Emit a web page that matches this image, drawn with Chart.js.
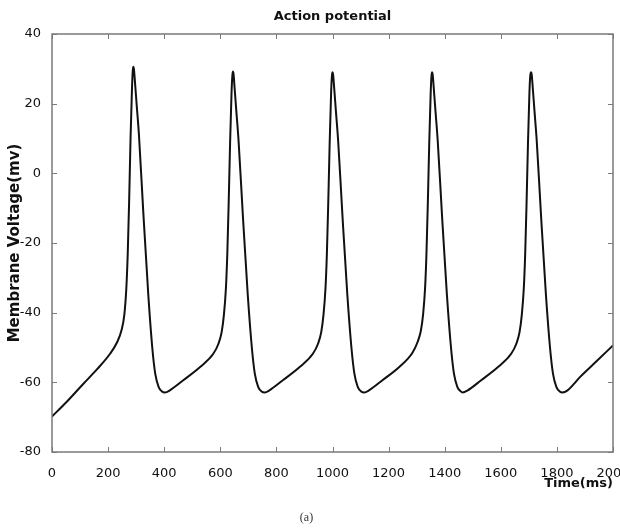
<!DOCTYPE html>
<html>
<head>
<meta charset="utf-8">
<script src="https://cdn.jsdelivr.net/npm/chart.js@4.4.1/dist/chart.umd.min.js"></script>
<style>
  html, body { margin: 0; padding: 0; background: #fff; }
  #wrap { width: 620px; height: 532px; position: relative; }
</style>
</head>
<body>
<div id="wrap"><canvas id="apChart"></canvas></div>
<script>
// membrane voltage trace (ms, mV)
const timeMs = [
  0, 50, 112, 160, 207, 232, 248, 258, 265, 270, 275, 280, 285, 288, 290, 292, 296, 302, 310, 325, 343, 358, 368, 380, 392, 403, 420,
  468, 528, 575, 593, 605, 613, 620, 625, 630, 635, 640, 643, 645, 647, 651, 657, 665, 680, 698, 713, 723, 735, 747, 758, 775,
  823, 883, 930, 948, 960, 968, 975, 980, 985, 990, 995, 998, 1000, 1002, 1006, 1012, 1020, 1035, 1053, 1068, 1078, 1090, 1102, 1113, 1130,
  1178, 1238, 1285, 1303, 1315, 1323, 1330, 1335, 1340, 1345, 1350, 1353, 1355, 1357, 1361, 1367, 1375, 1390, 1408, 1423, 1433, 1445, 1457, 1464, 1482,
  1530, 1590, 1637, 1655, 1667, 1675, 1682, 1687, 1692, 1697, 1702, 1705, 1708, 1710, 1714, 1720, 1728, 1743, 1761, 1776, 1786, 1798, 1810, 1820, 1838,
  1860, 1882, 1942, 2000
];
const voltageMv = [
  -69.8, -65.8, -60.4, -56.3, -51.8, -48.5, -45, -40.5, -33, -23, -8, 10, 24, 29.5, 30.6, 30, 26, 19.5, 11, -10.5, -34.5, -50.5, -57.5, -61.3, -62.6, -62.9, -62.3,
  -59.4, -55.6, -51.8, -49, -45.5, -40.5, -33, -23, -8, 9, 23, 28, 29.2, 28.7, 24.5, 18, 9.5, -11.5, -35, -50.5, -57.5, -61.3, -62.6, -62.9, -62.3,
  -59.4, -55.6, -51.8, -49, -45.5, -40.5, -33, -23, -8, 9, 23, 28, 29, 28.5, 24.5, 18, 9.5, -11.5, -35, -50.5, -57.5, -61.3, -62.6, -62.9, -62.3,
  -59.4, -55.6, -51.5, -48.5, -45.2, -40.5, -33, -23, -8, 9, 23, 28, 29, 28.5, 24.5, 18, 9.5, -11.5, -35, -50.5, -57.5, -61.3, -62.6, -62.9, -62.3,
  -59.4, -55.6, -51.8, -49, -45.5, -40.5, -33, -23, -8, 9, 23, 28, 29, 28.5, 24.5, 18, 9.5, -11.5, -35, -50.5, -57.5, -61.3, -62.6, -62.9, -62.3,
  -60.5, -58.5, -53.9, -49.4
];
const xTicks = [0, 200, 400, 600, 800, 1000, 1200, 1400, 1600, 1800, 2000];
const yTicks = [-80, -60, -40, -20, 0, 20, 40];

const points = timeMs.map((t, i) => ({ x: t, y: voltageMv[i] }));

// matlab-ish box with ticks pointing inward
const boxTicks = {
  id: 'boxTicks',
  afterDraw(chart) {
    const { ctx, chartArea: a, scales: { x, y } } = chart;
    ctx.save();
    ctx.strokeStyle = '#7a7a7a';
    ctx.lineWidth = 1;
    ctx.beginPath();
    xTicks.forEach(v => {
      const px = Math.round(x.getPixelForValue(v)) + 0.5;
      ctx.moveTo(px, a.bottom); ctx.lineTo(px, a.bottom - 5);
      ctx.moveTo(px, a.top); ctx.lineTo(px, a.top + 5);
    });
    yTicks.forEach(v => {
      const py = Math.round(y.getPixelForValue(v)) + 0.5;
      ctx.moveTo(a.left, py); ctx.lineTo(a.left + 5, py);
      ctx.moveTo(a.right, py); ctx.lineTo(a.right - 5, py);
    });
    ctx.stroke();
    ctx.lineWidth = 1.5;
    ctx.strokeRect(a.left, a.top, a.right - a.left, a.bottom - a.top);
    ctx.restore();
  }
};

const tickFont = { family: 'DejaVu Sans', size: 13 };
const boldFont = { family: 'DejaVu Sans', size: 13, weight: 'bold' };

new Chart(document.getElementById('apChart'), {
  type: 'line',
  data: {
    datasets: [{
      data: points,
      borderColor: '#111',
      borderWidth: 2,
      pointRadius: 0,
      fill: false,
      cubicInterpolationMode: 'monotone'
    }]
  },
  options: {
    responsive: true,
    maintainAspectRatio: false,
    animation: false,
    layout: { autoPadding: false, padding: { left: 0, right: 7, top: 0, bottom: 0 } },
    plugins: {
      legend: { display: false },
      tooltip: { enabled: false },
      title: {
        display: true,
        fullSize: false,
        text: 'Action potential',
        color: '#111',
        font: boldFont,
        padding: { top: 9, bottom: 9.4 }
      },
      subtitle: {
        display: true,
        position: 'bottom',
        text: '(a)',
        color: '#333',
        font: { family: 'Liberation Serif', size: 12 },
        padding: { top: 0, bottom: 7 }
      }
    },
    scales: {
      x: {
        type: 'linear',
        min: 0,
        max: 2000,
        grid: { display: false },
        border: { display: false },
        ticks: { stepSize: 200, color: '#111', font: tickFont, padding: 6, maxRotation: 0, autoSkip: false,
                 callback: v => String(v) },
        title: { display: true, text: 'Time(ms)', align: 'end', color: '#111', font: boldFont, padding: { top: 0, bottom: 18.8 } },
        afterFit(scale) { scale.height = 58.6; scale.paddingLeft = 0; scale.paddingRight = 0; }
      },
      y: {
        min: -80,
        max: 40,
        grid: { display: false },
        border: { display: false },
        ticks: { stepSize: 20, color: '#111', font: tickFont, padding: 3, callback: v => String(v) },
        title: { display: true, text: 'Membrane Voltage(mv)', color: '#111',
                 font: { family: 'DejaVu Sans', size: 15, weight: 'bold' }, padding: { top: 6, bottom: 0 } },
        afterFit(scale) { scale.width = 52; scale.paddingTop = 0; scale.paddingBottom = 0; }
      }
    }
  },
  plugins: [boxTicks]
});
</script>
</body>
</html>
